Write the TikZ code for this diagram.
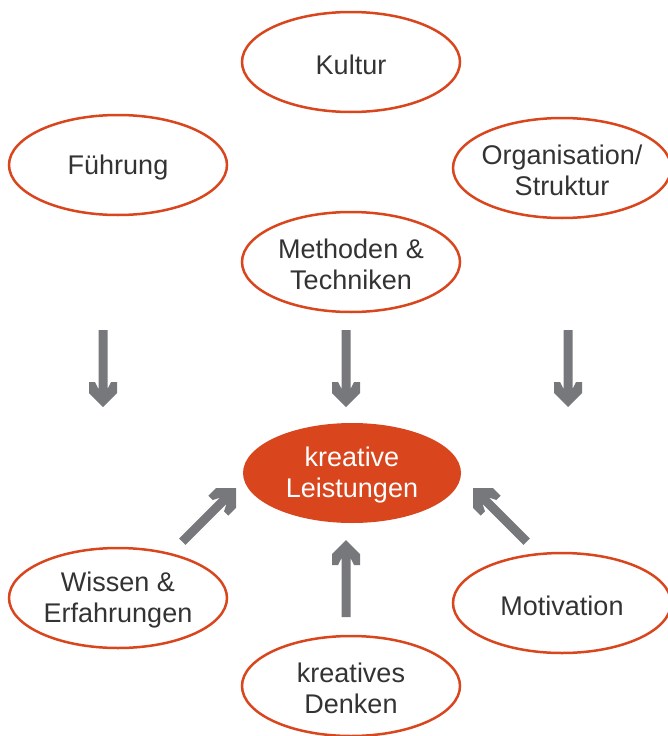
\documentclass[tikz,border=0pt]{standalone}
\usepackage{fontspec}
\setmainfont{Liberation Sans}
\definecolor{orangeC}{HTML}{D9461E}
\definecolor{txtC}{HTML}{333333}
\definecolor{arrC}{HTML}{77787B}
\tikzset{
  x=1pt, y=-1pt,
  lbl/.style={align=center, text=txtC, inner sep=0pt, yshift=-2.5pt,
    font=\fontsize{27}{31}\selectfont},
  ellb/.style={draw=orangeC, line width=2.5pt, fill=white},
  pics/garrow/.style={code={
    \fill[arrC] (0,0) -- (-14,14) -- (-25,14) -- (-25,8) -- (-18,4.5) -- (-#1,4.5)
      -- (-#1,-4.5) -- (-18,-4.5) -- (-25,-8) -- (-25,-14) -- (-14,-14) -- cycle;}}
}
\begin{document}
\begin{tikzpicture}
\useasboundingbox (0,0) rectangle (667,736);
% ellipses
\coordinate (cKul) at (351,62);
\coordinate (cFue) at (118,165);
\coordinate (cOrg) at (562,168);
\coordinate (cMet) at (351,262);
\coordinate (cKre) at (352,473);
\coordinate (cWis) at (118,598);
\coordinate (cMot) at (562,603);
\coordinate (cDen) at (351,686);
\foreach \c in {cKul,cFue,cOrg,cMet,cWis,cMot,cDen}
  \draw[ellb] (\c) ellipse [x radius=109, y radius=50];
\fill[orangeC] (cKre) ellipse [x radius=109, y radius=50];
% labels
\node[lbl] (kul) at (cKul) {Kultur};
\node[lbl] (fue) at (cFue) {Führung};
\node[lbl] (org) at (cOrg) {Organisation/\\Struktur};
\node[lbl] (met) at (cMet) {Methoden \&\\Techniken};
\node[lbl, text=white] (kre) at (cKre) {kreative\\Leistungen};
\node[lbl] (wis) at (cWis) {Wissen \&\\Erfahrungen};
\node[lbl] (mot) at (cMot) {Motivation};
\node[lbl] (den) at (cDen) {kreatives\\Denken};
% arrows
\coordinate (a1) at (103,407);
\coordinate (a2) at (346,407);
\coordinate (a3) at (568,407);
\coordinate (a4) at (346,540);
\coordinate (a5) at (236,488);
\coordinate (a6) at (473,488);
\pic[rotate=-90] at (a1) {garrow=77};
\pic[rotate=-90] at (a2) {garrow=77};
\pic[rotate=-90] at (a3) {garrow=77};
\pic[rotate=90] at (a4) {garrow=77};
\pic[rotate=45] at (a5) {garrow=76};
\pic[rotate=135] at (a6) {garrow=76};
\end{tikzpicture}
\end{document}
